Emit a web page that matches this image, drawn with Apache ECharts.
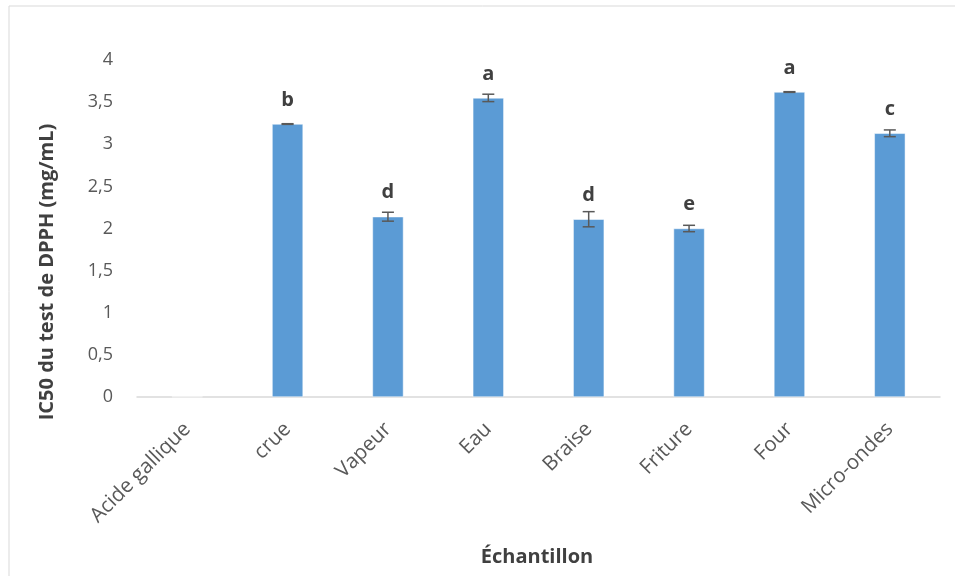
<!DOCTYPE html>
<html>
<head>
<meta charset="utf-8">
<script src="https://cdn.jsdelivr.net/npm/echarts@6/dist/echarts.min.js"></script>
<style>
  html, body { margin: 0; padding: 0; background: #fff; }
  #chart { width: 955px; height: 576px; }
</style>
</head>
<body>
<div id="chart"></div>
<script>
const categories = ["Acide gallique", "crue", "Vapeur", "Eau", "Braise", "Friture", "Four", "Micro-ondes"];
const ic50 = [0.004, 3.24, 2.14, 3.55, 2.11, 2.0, 3.62, 3.13];
const errors = [0, 0.004, 0.053, 0.044, 0.09, 0.038, 0.004, 0.04];
const letters = ["", "b", "d", "a", "d", "e", "a", "c"];
const yTicks = [0, 0.5, 1, 1.5, 2, 2.5, 3, 3.5, 4];

const font = "'Open Sans', 'DejaVu Sans', sans-serif";

const chart = echarts.init(document.getElementById("chart"));

chart.setOption({
  animation: false,
  backgroundColor: "#fff",
  grid: { left: 137, right: 15, top: 60, bottom: 179 },
  graphic: [
    {
      type: "rect",
      shape: { x: 9, y: 6, width: 1000, height: 620 },
      style: { fill: "none", stroke: "#d9d9d9", lineWidth: 1 }
    },
    {
      type: "text",
      x: 47, y: 272, rotation: Math.PI / 2,
      style: {
        text: "IC50 du test de DPPH (mg/mL)",
        font: "bold 20px " + font,
        fill: "#404040",
        align: "center",
        verticalAlign: "middle"
      }
    },
    {
      type: "text",
      x: 537, y: 557,
      style: {
        text: "Échantillon",
        font: "bold 20px " + font,
        fill: "#404040",
        align: "center",
        verticalAlign: "middle"
      }
    }
  ],
  xAxis: {
    type: "category",
    data: categories,
    axisLine: { lineStyle: { color: "#d9d9d9", width: 1.5 } },
    axisTick: { show: false },
    axisLabel: {
      rotate: 45,
      interval: 0,
      margin: 29,
      color: "#595959",
      fontSize: 20.5,
      fontFamily: font
    }
  },
  yAxis: {
    type: "value",
    min: 0,
    max: yTicks[yTicks.length - 1],
    interval: 0.5,
    splitLine: { show: false },
    axisLine: { show: false },
    axisTick: { show: false },
    axisLabel: {
      color: "#595959",
      fontSize: 18,
      fontFamily: font,
      margin: 24,
      formatter: v => String(v).replace(".", ",")
    }
  },
  series: [
    {
      type: "bar",
      data: ic50,
      barWidth: 31,
      itemStyle: { color: "#5b9bd5", borderColor: "#ffffff", borderWidth: 0.5 },
      label: {
        show: true,
        position: "top",
        distance: 14,
        formatter: p => letters[p.dataIndex],
        fontSize: 20,
        fontWeight: "bold",
        color: "#404040",
        fontFamily: font
      }
    },
    {
      type: "custom",
      data: ic50.map((v, i) => [i, v, errors[i]]),
      z: 10,
      renderItem: function (params, api) {
        const i = api.value(0);
        const v = api.value(1);
        const e = api.value(2);
        if (!e) return null;
        const hi = api.coord([i, v + e]);
        const lo = api.coord([i, v - e]);
        const cap = 6;
        const st = { stroke: "#595959", lineWidth: 1.5 };
        return {
          type: "group",
          children: [
            { type: "line", shape: { x1: hi[0], y1: hi[1], x2: lo[0], y2: lo[1] }, style: st },
            { type: "line", shape: { x1: hi[0] - cap, y1: hi[1], x2: hi[0] + cap, y2: hi[1] }, style: st },
            { type: "line", shape: { x1: lo[0] - cap, y1: lo[1], x2: lo[0] + cap, y2: lo[1] }, style: st }
          ]
        };
      }
    }
  ]
});
</script>
</body>
</html>
